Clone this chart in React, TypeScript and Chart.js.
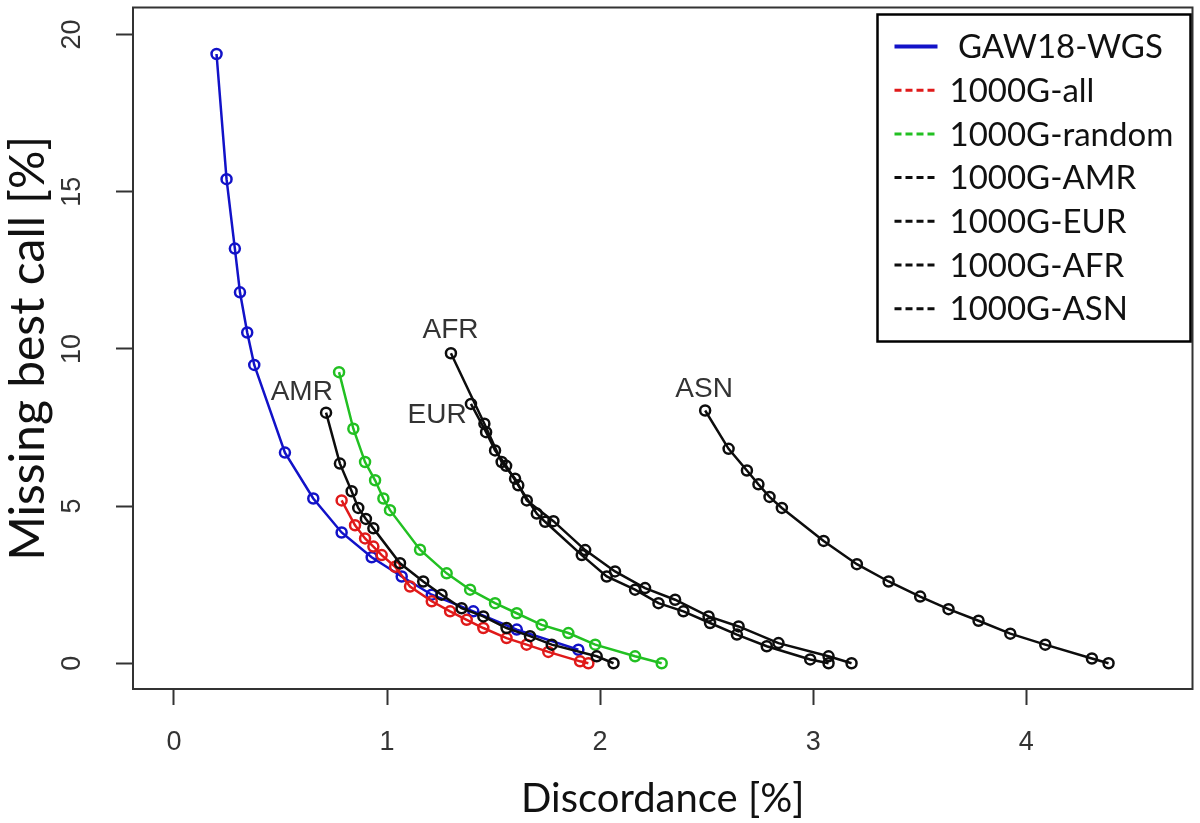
import React, { useEffect, useRef } from "react";
import { Chart, registerables } from "chart.js";

Chart.register(...registerables);

// ---- data (Discordance [%] -> x, Missing best call [%] -> y) ----
const seriesNames = [" GAW18-WGS", "1000G-all", "1000G-random", "1000G-AMR", "1000G-EUR", "1000G-AFR", "1000G-ASN"];

const wgsX = [0.20, 0.247, 0.286, 0.31, 0.344, 0.377, 0.521, 0.654, 0.787, 0.928, 1.069, 1.21, 1.405, 1.609, 1.898];
const wgsY = [19.38, 15.4, 13.19, 11.8, 10.52, 9.49, 6.7, 5.24, 4.16, 3.37, 2.76, 2.18, 1.65, 1.07, 0.43];

const allX = [0.787, 0.85, 0.897, 0.936, 0.975, 1.038, 1.108, 1.21, 1.296, 1.374, 1.452, 1.561, 1.655, 1.757, 1.906, 1.945];
const allY = [5.18, 4.39, 3.97, 3.71, 3.44, 3.07, 2.44, 1.97, 1.65, 1.38, 1.12, 0.8, 0.59, 0.36, 0.06, 0.0];

const randomX = [0.775, 0.842, 0.897, 0.944, 0.983, 1.014, 1.155, 1.28, 1.39, 1.507, 1.609, 1.726, 1.851, 1.977, 2.164, 2.289];
const randomY = [9.26, 7.46, 6.4, 5.82, 5.24, 4.87, 3.61, 2.86, 2.34, 1.91, 1.59, 1.22, 0.96, 0.59, 0.22, 0.0];

const amrX = [0.714, 0.779, 0.834, 0.865, 0.901, 0.936, 1.061, 1.17, 1.256, 1.35, 1.452, 1.561, 1.671, 1.773, 1.984, 2.063];
const amrY = [7.97, 6.35, 5.47, 4.94, 4.59, 4.29, 3.18, 2.6, 2.18, 1.75, 1.49, 1.12, 0.86, 0.59, 0.22, 0.0];

const eurX = [1.394, 1.465, 1.507, 1.559, 1.616, 1.703, 1.742, 1.914, 2.031, 2.164, 2.274, 2.391, 2.516, 2.642, 2.782, 2.986, 3.072];
const eurY = [8.25, 7.35, 6.77, 6.28, 5.66, 4.76, 4.5, 3.44, 2.76, 2.34, 1.91, 1.65, 1.28, 0.91, 0.54, 0.12, 0.0];

const afrX = [1.3, 1.457, 1.538, 1.601, 1.656, 1.781, 1.93, 2.07, 2.211, 2.352, 2.509, 2.65, 2.837, 3.072, 3.18];
const afrY = [9.86, 7.62, 6.4, 5.87, 5.18, 4.52, 3.6, 2.92, 2.39, 2.02, 1.49, 1.17, 0.64, 0.22, 0.0];

const asnX = [2.493, 2.603, 2.689, 2.743, 2.795, 2.853, 3.049, 3.205, 3.354, 3.502, 3.635, 3.776, 3.925, 4.089, 4.308, 4.386];
const asnY = [8.04, 6.82, 6.13, 5.69, 5.29, 4.94, 3.89, 3.15, 2.6, 2.12, 1.72, 1.35, 0.94, 0.59, 0.15, 0.0];

const xTickValues = [0, 1, 2, 3, 4];
const yTickValues = [0, 5, 10, 15, 20];

const annotationLabels = ["AMR", "AFR", "EUR", "ASN"];
const annotationX = [0.6, 1.298, 1.235, 2.488];
const annotationY = [8.62, 10.59, 7.89, 8.73];

const BLUE = "#1212c8";
const RED = "#e01a1a";
const GREEN = "#22c022";
const BLACK = "#0d0d0d";

const seriesColors = [BLUE, RED, GREEN, BLACK, BLACK, BLACK, BLACK];

function pts(xs: number[], ys: number[]) {
  return xs.map((x, i) => ({ x, y: ys[i] }));
}

const R_FONT = "'Liberation Sans', Arial, sans-serif";
const TITLE_FONT = "Lato, 'Liberation Sans', sans-serif";

const overlayPlugin = {
  id: "overlay",
  afterDatasetsDraw(chart: any) {
    const { ctx, chartArea, scales } = chart;
    const xs = scales.x;
    const ys = scales.y;
    ctx.save();
    // frame box
    ctx.strokeStyle = "#333333";
    ctx.lineWidth = 2;
    ctx.strokeRect(chartArea.left, chartArea.top, chartArea.right - chartArea.left, chartArea.bottom - chartArea.top);

    // annotations
    ctx.fillStyle = "#333333";
    ctx.font = `28px ${R_FONT}`;
    ctx.textAlign = "center";
    ctx.textBaseline = "middle";
    annotationLabels.forEach((t, i) => {
      ctx.fillText(t, xs.getPixelForValue(annotationX[i]), ys.getPixelForValue(annotationY[i]));
    });

    // legend box
    const bx = chartArea.right - 315;
    const by = chartArea.top + 7;
    const bw = 313;
    const bh = 327;
    ctx.fillStyle = "#ffffff";
    ctx.fillRect(bx, by, bw, bh);
    ctx.strokeStyle = "#000000";
    ctx.lineWidth = 2.5;
    ctx.strokeRect(bx, by, bw, bh);
    ctx.font = `33px ${TITLE_FONT}`;
    ctx.textAlign = "left";
    ctx.textBaseline = "middle";
    seriesNames.forEach((name, i) => {
      const y = by + 32 + i * 43.7;
      ctx.beginPath();
      ctx.strokeStyle = seriesColors[i];
      if (i === 0) {
        ctx.setLineDash([]);
        ctx.lineWidth = 4;
      } else {
        ctx.setLineDash([7, 4]);
        ctx.lineWidth = 3;
      }
      ctx.moveTo(bx + 17, y);
      ctx.lineTo(bx + 60, y);
      ctx.stroke();
      ctx.setLineDash([]);
      ctx.fillStyle = "#111111";
      ctx.fillText(name, bx + 72, y + 1);
    });
    ctx.restore();
  },
};

export default function App() {
  const ref = useRef<HTMLCanvasElement | null>(null);
  useEffect(() => {
    if (!ref.current) return;
    const mk = (i: number, xs: number[], ys: number[], order: number) => ({
      label: seriesNames[i],
      data: pts(xs, ys),
      borderColor: seriesColors[i],
      backgroundColor: "rgba(0,0,0,0)",
      pointBackgroundColor: "rgba(0,0,0,0)",
      pointBorderColor: seriesColors[i],
      pointRadius: 5,
      pointBorderWidth: 2.5,
      borderWidth: 2.5,
      showLine: true,
      tension: 0,
      order,
    });
    const chart = new Chart(ref.current, {
      type: "scatter",
      data: {
        datasets: [
          mk(0, wgsX, wgsY, 6),
          mk(1, allX, allY, 5),
          mk(2, randomX, randomY, 4),
          mk(3, amrX, amrY, 3),
          mk(4, eurX, eurY, 2),
          mk(5, afrX, afrY, 1),
          mk(6, asnX, asnY, 0),
        ],
      },
      options: {
        animation: false,
        responsive: true,
        maintainAspectRatio: false,
        layout: { padding: { top: 4, right: 5, bottom: 0, left: 0 } },
        plugins: { legend: { display: false }, tooltip: { enabled: false } },
        scales: {
          x: {
            type: "linear",
            position: "bottom",
            min: -0.192,
            max: 4.78,
            afterBuildTicks: (s: any) => {
              s.ticks = xTickValues.map((v) => ({ value: v }));
            },
            afterFit: (s: any) => {
              s.height = 134;
              s.paddingLeft = 0;
              s.paddingRight = 0;
            },
            ticks: {
              font: { family: R_FONT, size: 27 },
              color: "#333333",
              padding: 21,
              maxRotation: 0,
              minRotation: 0,
              callback: (v: any) => String(v),
            },
            grid: { drawOnChartArea: false, drawTicks: true, tickLength: 16, tickColor: "#333333", tickWidth: 2 },
            border: { display: false },
            title: {
              display: true,
              text: "Discordance [%]",
              font: { family: TITLE_FONT, size: 40 },
              color: "#111111",
              padding: { top: 0, bottom: 0 },
            },
          },
          y: {
            type: "linear",
            position: "left",
            min: -0.82,
            max: 20.86,
            afterBuildTicks: (s: any) => {
              s.ticks = yTickValues.map((v) => ({ value: v }));
            },
            afterFit: (s: any) => {
              s.width = 133;
              s.paddingTop = 0;
              s.paddingBottom = 0;
            },
            ticks: {
              font: { family: R_FONT, size: 27 },
              color: "#333333",
              padding: 28,
              minRotation: 90,
              maxRotation: 90,
              crossAlign: "center",
              callback: (v: any) => String(v),
            },
            grid: { drawOnChartArea: false, drawTicks: true, tickLength: 17, tickColor: "#333333", tickWidth: 2 },
            border: { display: false },
            title: {
              display: true,
              text: "Missing best call [%]",
              font: { family: TITLE_FONT, size: 48 },
              color: "#111111",
              padding: { top: 0, bottom: 0 },
            },
          },
        },
      },
      plugins: [overlayPlugin],
    });
    return () => chart.destroy();
  }, []);
  return (
    <div style={{ position: "fixed", left: 0, top: 0, width: 1200, height: 823, background: "#ffffff" }}>
      <canvas ref={ref} />
    </div>
  );
}
